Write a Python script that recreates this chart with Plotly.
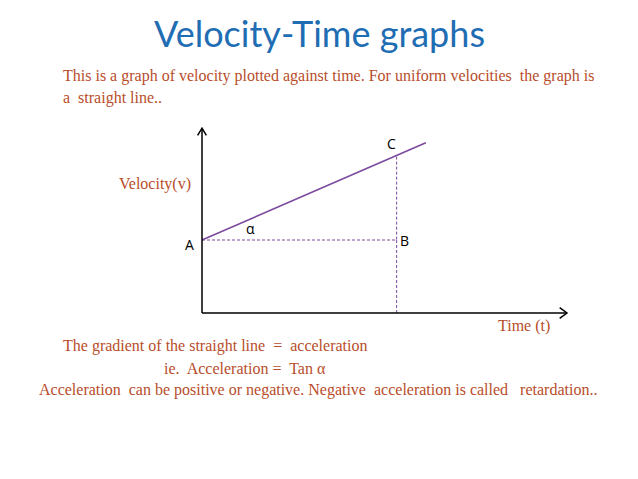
import plotly.graph_objects as go

# recta v-t: A al inicio, termina un poco después de C
time_t = [0, 9.2]
velocity_v = [3, 7]
t_b = 8  # instante del punto B / C
v_a = velocity_v[0]
v_c = v_a + (velocity_v[1] - v_a) * t_b / time_t[1]

x_range = [-0.5, 15.3]
y_range = [-0.5, 8.0]
x_tip = 15.0
y_tip = 7.6

W, H = 638, 479
OFF = 8  # margen del body de la pagina
text_color = "#b84d2a"
line_color = "#7b4a9e"

fig = go.Figure()

fig.add_trace(go.Scatter(
    x=time_t, y=velocity_v, mode="lines",
    line=dict(color=line_color, width=1.6),
    hoverinfo="skip", showlegend=False,
))

# lineas discontinuas A-B y B-C
fig.add_trace(go.Scatter(
    x=[0, t_b, t_b], y=[v_a, v_a, v_c], mode="lines",
    line=dict(color=line_color, width=1, dash="3px,2px"),
    hoverinfo="skip", showlegend=False,
))
fig.add_trace(go.Scatter(
    x=[t_b, t_b], y=[0, v_a], mode="lines",
    line=dict(color=line_color, width=1, dash="3px,2px"),
    hoverinfo="skip", showlegend=False,
))

# ejes con flechas abiertas
ax_style = dict(color="black", width=1.5)
fig.add_shape(type="line", x0=0, y0=0, x1=x_tip, y1=0, line=ax_style)
fig.add_shape(type="line", x0=0, y0=0, x1=0, y1=y_tip, line=ax_style)
fig.add_shape(type="path", path=f"M {x_tip-0.3},0.22 L {x_tip},0 L {x_tip-0.3},-0.22", line=ax_style)
fig.add_shape(type="path", path=f"M -0.18,{y_tip-0.3} L 0,{y_tip} L 0.18,{y_tip-0.3}", line=ax_style)

lbl = dict(family="Open Sans, sans-serif", size=14, color="black")
fig.add_annotation(x=0, y=v_a, text="A", xanchor="right", yanchor="middle", xshift=-6, yshift=-4, showarrow=False, font=lbl)
fig.add_annotation(x=t_b, y=v_a, text="B", xanchor="left", yanchor="middle", xshift=1, yshift=0, showarrow=False, font=lbl)
fig.add_annotation(x=t_b, y=v_c, text="C", xanchor="center", yanchor="bottom", xshift=-5, yshift=0, showarrow=False, font=lbl)
fig.add_annotation(x=2.0, y=v_a, text="α", xanchor="center", yanchor="bottom", yshift=0, showarrow=False, font=lbl)

serif = dict(family="Liberation Serif, Times New Roman, serif", size=16, color=text_color)

def place(px, py, text, anchor="left", font=serif):
    fig.add_annotation(x=(px - OFF) / W, y=1 - (py - OFF) / H, xref="paper", yref="paper",
                       text=text, xanchor=anchor, yanchor="middle",
                       showarrow=False, font=font)

place(319, 33, "Velocity-Time graphs", "center",
      dict(family="Lato, Open Sans, sans-serif", size=36, color="#1f6db3"))
place(61, 76, "This is a graph of velocity plotted against time. For uniform velocities  the graph is")
place(61, 98, "a  straight line..")
place(117, 184, "Velocity(v)")
place(496, 326, "Time (t)")
place(61, 346, "The gradient of the straight line  =  acceleration")
place(162, 368, "ie.  Acceleration =  Tan α")
place(37, 390, "Acceleration  can be positive or negative. Negative  acceleration is called   retardation..")

# dominio de ejes: origen en (202, 313) px, 24.33 px por unidad
ppu = 24.33
ox, oy = 202 - OFF, 313 - OFF
x0_px = ox + x_range[0] * ppu
x1_px = ox + x_range[1] * ppu
y0_px = oy - y_range[0] * ppu
y1_px = oy - y_range[1] * ppu

fig.update_layout(
    width=W, height=H,
    margin=dict(l=0, r=0, t=0, b=0),
    paper_bgcolor="white", plot_bgcolor="white",
    xaxis=dict(range=x_range, domain=[x0_px / W, x1_px / W], visible=False, fixedrange=True),
    yaxis=dict(range=y_range, domain=[1 - y0_px / H, 1 - y1_px / H], visible=False, fixedrange=True),
    showlegend=False,
)

fig.write_html("out.html")
